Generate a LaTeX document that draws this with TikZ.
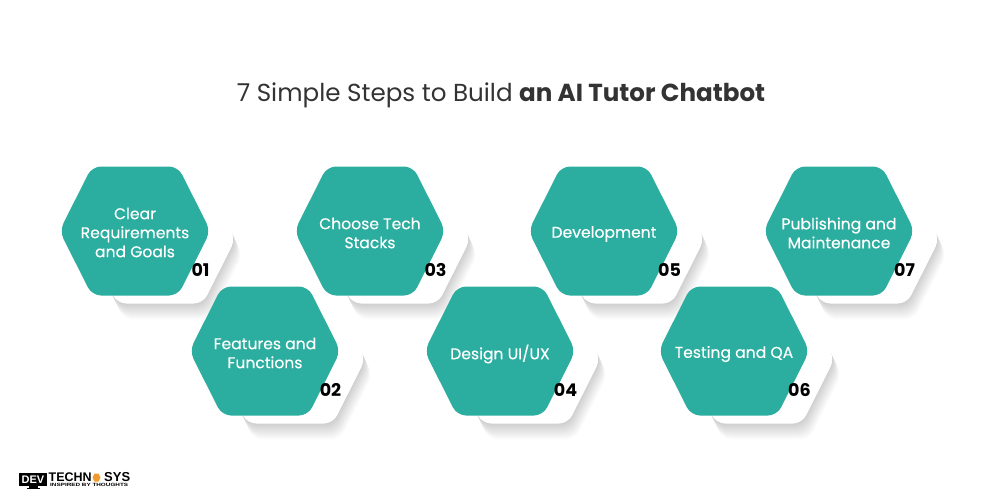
\documentclass[tikz,border=0pt]{standalone}
\usepackage{graphicx}
\usepackage{fontspec}
\setmainfont{Poppins}
\newfontfamily\labelfont[FakeBold=0.25]{Poppins}
\newfontfamily\logofont{Liberation Sans}
\usetikzlibrary{calc}
\definecolor{teal1}{HTML}{2BAD9F}
\definecolor{titlegray}{HTML}{333333}
\definecolor{logoorange}{HTML}{F29A2E}
\newcommand{\hexshape}[2]{%
  (#1-43,#2-64.5) -- (#1+43,#2-64.5) -- (#1+75.5,#2) -- (#1+43,#2+64.5) -- (#1-43,#2+64.5) -- (#1-75.5,#2) -- cycle}
\tikzset{
  hexfill/.style={fill=teal1,rounded corners=9pt},
  backfill/.style={fill=white,rounded corners=9pt},
  steplabel/.style={text=white,align=center,font=\labelfont\fontsize{15.6}{19}\selectfont,inner sep=0pt},
  numlabel/.style={text=black,font=\fontsize{17.5}{18}\selectfont\bfseries,inner sep=0pt},
  softshadow/.style={fill=black,opacity=0.0095,rounded corners=9pt,line join=round}
}
\newcommand{\stephex}[6]{%
  % #1 id, #2 cx, #3 cy, #4 number, #5 label offset, #6 text
  \foreach \k in {0.5,1,...,12}{
    \path[softshadow] \hexshape{#2+25+\k*0.6}{#3+8+\k*1.35};
  }
  \path[backfill] \hexshape{#2+25}{#3+8};
  \path[hexfill] \hexshape{#2}{#3};
  \node[steplabel] (t#1) at (#2,#3+#5) {#6};
  \node[numlabel] (n#1) at (#2+65.5,#3+39) {#4};
}
\begin{document}
\begin{tikzpicture}[x=1pt,y=-1pt]
\useasboundingbox (0,0) rectangle (1000,500);
\fill[white] (0,0) rectangle (1000,500);
\node[text=titlegray,font=\fontsize{24.6}{30}\selectfont,inner sep=0pt] (title) at (501,95) {7 Simple Steps to Build \textbf{an AI Tutor Chatbot}};
\stephex{1}{135}{231}{01}{1.5}{Clear\\Requirements\\and Goals}
\stephex{3}{370}{231}{03}{2}{Choose Tech\\Stacks}
\stephex{5}{604}{231}{05}{3}{Development}
\stephex{7}{839}{231}{07}{2}{Publishing and\\Maintenance}
\stephex{2}{265}{351}{02}{2}{Features and\\Functions}
\stephex{4}{500}{351}{04}{3}{Design UI/UX}
\stephex{6}{734}{351}{06}{3}{Testing and QA}
% logo
\fill[black] (19,473) rectangle (47,486);
\fill[black] (29,486) rectangle (38,488);
\fill[black] (27,488) rectangle (40,489);
\node[text=white,font=\logofont\fontsize{11}{11}\selectfont\bfseries,inner sep=0pt] (logodev) at (33,479.5) {DEV};
\node[anchor=west,text=black,font=\logofont\fontsize{12.5}{12}\selectfont\bfseries,inner sep=0pt] (logotech) at (48.5,477.5) {TECHN};
\fill[logoorange] (94.5,473.5) -- (98.5,473.5) -- (100.5,477.5) -- (98.5,481.5) -- (94.5,481.5) -- (92.5,477.5) -- cycle;
\node[anchor=west,text=black,font=\logofont\fontsize{13}{12}\selectfont\bfseries,inner sep=0pt] (logosys) at (104,477.5) {SYS};
\node[anchor=west,text=black,font=\logofont\fontsize{4.6}{5}\selectfont\bfseries,inner sep=0pt] (logosub) at (50,485.3) {\scalebox{1.38}[1]{INSPIRED BY THOUGHTS}};
\end{tikzpicture}
\end{document}
